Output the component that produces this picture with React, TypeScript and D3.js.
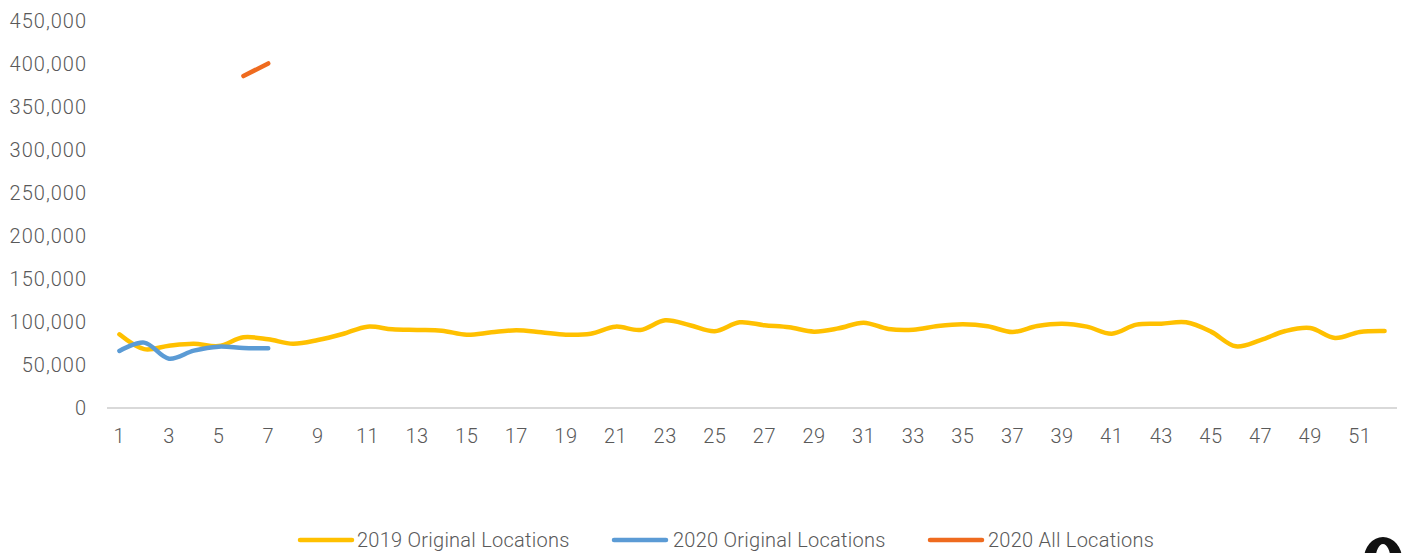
import React from "react";
import * as d3 from "d3";

const weeks: number[] = Array.from({ length: 52 }, (_, i) => i + 1);

const orig2019: number[] = [
  85700, 68500, 72500, 74800, 72000, 82200, 79900, 74800, 79000, 86000,
  94600, 91500, 90700, 89900, 85200, 88000, 90300, 88000, 85200, 86400,
  94600, 90700, 102000, 96200, 89200, 99600, 96200, 93800, 88800, 92700,
  99200, 91900, 91000, 95300, 97300, 95000, 88400, 95300, 98000, 94600,
  86400, 96900, 98000, 99600, 88800, 71700, 79000, 89500, 93000, 81400,
  88400, 89500,
];

const orig2020: number[] = [66300, 76000, 57300, 66700, 71300, 69800, 69400];

const allWeeks2020: number[] = [6, 7];
const all2020: number[] = [386000, 400700];

const yTicks: number[] = [0, 50000, 100000, 150000, 200000, 250000, 300000, 350000, 400000, 450000];
const xTickLabels: number[] = weeks.filter((w) => w % 2 === 1);

const seriesNames = ["2019 Original Locations", "2020 Original Locations", "2020 All Locations"];
const colors = ["#FFC000", "#5B9BD5", "#EF6B1F"];

const W = 1402;
const H = 553;
const FONT = "Roboto, 'Open Sans', sans-serif";

export default function App() {
  const x = d3
    .scaleBand<number>()
    .domain(weeks)
    .range([107, 1397]);
  const cx = (w: number) => (x(w) as number) + x.bandwidth() / 2;
  const y = d3.scaleLinear().domain([0, 450000]).range([408, 21]);

  const line = d3
    .line<[number, number]>()
    .x((d) => cx(d[0]))
    .y((d) => y(d[1]))
    .curve(d3.curveCatmullRom.alpha(0.5));

  const d2019 = line(weeks.map((w, i) => [w, orig2019[i]] as [number, number])) || "";
  const d2020 = line(orig2020.map((v, i) => [weeks[i], v] as [number, number])) || "";
  const dAll = line(all2020.map((v, i) => [allWeeks2020[i], v] as [number, number])) || "";

  const fmt = d3.format(",");

  const legendItems = [
    { lx: 300, tx: 357 },
    { lx: 614, tx: 673 },
    { lx: 930, tx: 988 },
  ];

  // partial logo shape at bottom-right corner (clipped by the page edge)
  const ocx = 1383, ocy = 559, orx = 19, ory = 22;
  const icx = 1383, icy = 560, irx = 7.5, iry = 16;
  const logo =
    `M${ocx - orx},${ocy} a${orx},${ory} 0 1,0 ${2 * orx},0 a${orx},${ory} 0 1,0 ${-2 * orx},0 Z ` +
    `M${icx - irx},${icy} a${irx},${iry} 0 1,0 ${2 * irx},0 a${irx},${iry} 0 1,0 ${-2 * irx},0 Z`;

  return (
    <svg
      width={W}
      height={H}
      style={{ position: "absolute", left: 0, top: 0, overflow: "hidden", background: "#fff" }}
    >
      <rect x={0} y={0} width={W} height={H} fill="#fff" />
      {yTicks.map((t) => (
        <text
          key={t}
          x={87}
          y={y(t)}
          textAnchor="end"
          dominantBaseline="central"
          fontFamily={FONT}
          fontWeight={300}
          fontSize={20}
          letterSpacing={1}
          fill="#595959"
        >
          {fmt(t)}
        </text>
      ))}
      <line x1={107} x2={1397} y1={y(0)} y2={y(0)} stroke="#D9D9D9" strokeWidth={2} />
      {xTickLabels.map((w) => (
        <text
          key={w}
          x={cx(w)}
          y={443}
          textAnchor="middle"
          fontFamily={FONT}
          fontWeight={300}
          fontSize={20}
          letterSpacing={0.5}
          fill="#595959"
        >
          {w}
        </text>
      ))}
      <path d={d2019} fill="none" stroke={colors[0]} strokeWidth={4.5} strokeLinecap="round" strokeLinejoin="round" />
      <path d={d2020} fill="none" stroke={colors[1]} strokeWidth={4.5} strokeLinecap="round" strokeLinejoin="round" />
      <path d={dAll} fill="none" stroke={colors[2]} strokeWidth={4.5} strokeLinecap="round" strokeLinejoin="round" />
      {legendItems.map((it, i) => (
        <g key={i}>
          <line x1={it.lx} x2={it.lx + 52} y1={540} y2={540} stroke={colors[i]} strokeWidth={4.5} strokeLinecap="round" />
          <text
            x={it.tx}
            y={540}
            dominantBaseline="central"
            fontFamily={FONT}
            fontWeight={300}
            fontSize={20}
            letterSpacing={0.25}
            fill="#595959"
          >
            {seriesNames[i]}
          </text>
        </g>
      ))}
      <path d={logo} fill="#111" fillRule="evenodd" />
    </svg>
  );
}
